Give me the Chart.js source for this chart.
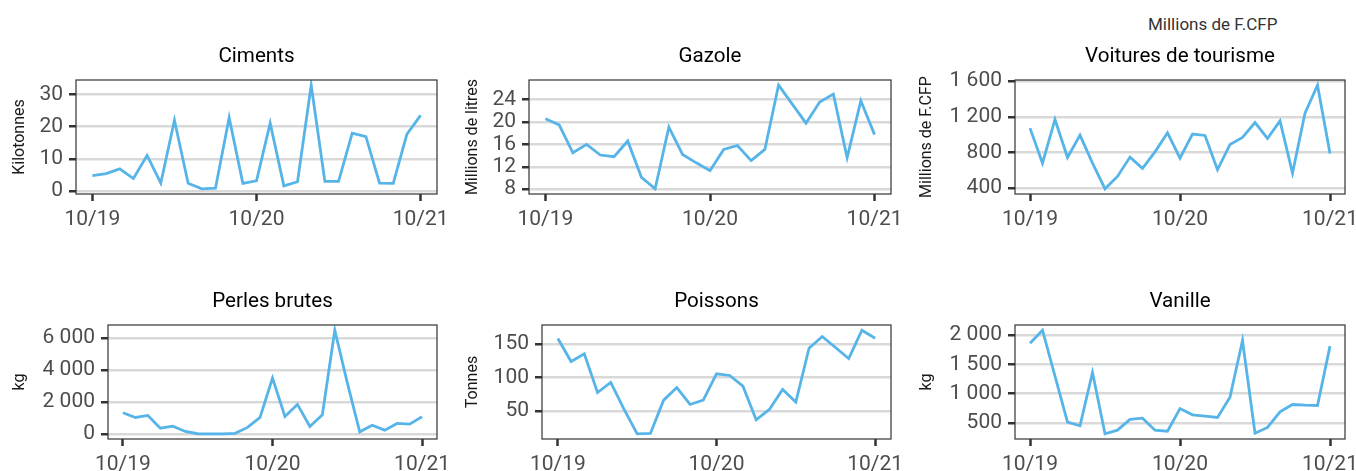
<!DOCTYPE html>
<html lang="fr">
<head>
  <meta charset="UTF-8" />
  <title>Indicateurs mensuels</title>
  <script src="https://cdn.jsdelivr.net/npm/chart.js"></script>
  <style>
    html, body {
      margin: 0;
      padding: 0;
      background: #fff;
      overflow: hidden;
    }
    body {
      width: 1356px;
      height: 471px;
      position: relative;
      font-family: Roboto, sans-serif;
    }
    canvas {
      position: absolute;
    }
    .caption {
      position: absolute;
      left: 1148px;
      top: 14px;
      font-size: 17px;
      line-height: 20px;
      color: #333;
    }
  </style>
</head>
<body>
  <div class="caption">Millions de F.CFP</div>

  <canvas id="c1" width="452" height="210" style="left:0px;top:30px"></canvas>
  <canvas id="c2" width="452" height="210" style="left:453px;top:30px"></canvas>
  <canvas id="c3" width="449" height="210" style="left:907px;top:30px"></canvas>
  <canvas id="c4" width="452" height="210" style="left:0px;top:275px"></canvas>
  <canvas id="c5" width="452" height="210" style="left:453px;top:275px"></canvas>
  <canvas id="c6" width="449" height="210" style="left:907px;top:275px"></canvas>

  <script>
    // mois d'octobre 2019 a octobre 2021
    const months = ['10/19', '11/19', '12/19', '01/20', '02/20', '03/20', '04/20', '05/20', '06/20',
      '07/20', '08/20', '09/20', '10/20', '11/20', '12/20', '01/21', '02/21', '03/21', '04/21',
      '05/21', '06/21', '07/21', '08/21', '09/21', '10/21'];
    const monthTicks = ['10/19', '10/20', '10/21'];

    const ciments = [4.8, 5.4, 6.9, 3.9, 11.1, 2.5, 22, 2.4, 0.7, 0.9, 22.8, 2.4, 3.2, 21.1, 1.6, 2.9,
      32.9, 3.0, 3.0, 18.0, 16.9, 2.5, 2.4, 17.7, 23.5];
    const gazole = [20.6, 19.5, 14.5, 16.0, 14.1, 13.8, 16.6, 10.1, 8.05, 19.1, 14.2, 12.7, 11.3, 15.1,
      15.8, 13.1, 15.1, 26.6, 23.2, 19.8, 23.6, 25.0, 13.6, 23.8, 17.75];
    const voitures = [1073, 680, 1170, 744, 994, 680, 392, 531, 748, 621, 807, 1021, 736, 1006, 991, 606,
      890, 968, 1136, 957, 1155, 568, 1241, 1555, 789];
    const perles = [1318, 1025, 1150, 355, 480, 146, 5, 0, 0, 30, 400, 1025, 3494, 1090, 1840, 460,
      1190, 6485, 3200, 125, 540, 230, 650, 605, 1065];
    const poissons = [157.9, 123.8, 135.1, 77.7, 92.6, 53, 16.3, 16.8, 66.3, 85.1, 59.9, 66.3, 105.4, 103,
      87.1, 37.1, 52.5, 82.2, 63.4, 143.6, 160.9, 144.6, 128.2, 170.3, 158.4];
    const vanille = [1858, 2079, 1300, 517, 455, 1360, 319, 381, 563, 585, 381, 364, 749, 642, 619, 597,
      942, 1904, 330, 427, 693, 817, 806, 800, 1808];

    const cimentsTicks = [0, 10, 20, 30];
    const gazoleTicks = [8, 12, 16, 20, 24];
    const voituresTicks = [400, 800, 1200, 1600];
    const perlesTicks = [0, 2000, 4000, 6000];
    const poissonsTicks = [50, 100, 150];
    const vanilleTicks = [500, 1000, 1500, 2000];

    const FONT = 'Roboto';

    // nombres a la francaise : 1 600
    function fmt(v) {
      return String(v).replace(/\B(?=(\d{3})+(?!\d))/g, ' ');
    }

    const panelBox = {
      id: 'panelBox',
      afterDraw(chart) {
        const a = chart.chartArea;
        const ctx = chart.ctx;
        ctx.save();
        ctx.strokeStyle = '#333';
        ctx.lineWidth = 1.2;
        ctx.strokeRect(a.left, a.top, a.right - a.left, a.bottom - a.top);
        ctx.restore();
      }
    };

    function makeChart(id, title, yTitle, values, yTicks, yWidth, padRight) {
      const lo = Math.min(...values), hi = Math.max(...values);
      const span = hi - lo;
      return new Chart(document.getElementById(id), {
        type: 'line',
        data: {
          datasets: [{
            data: values.map((v, i) => ({ x: i, y: v })),
            borderColor: '#56B4E9',
            borderWidth: 2.8,
            pointRadius: 0,
            tension: 0,
            fill: false
          }]
        },
        options: {
          responsive: false,
          animation: false,
          layout: { padding: { left: 8, right: padRight, top: 0, bottom: 0 } },
          plugins: {
            legend: { display: false },
            tooltip: { enabled: false },
            title: {
              display: true,
              text: title,
              fullSize: false,
              color: '#000',
              font: { family: FONT, size: 20.6, weight: 'normal', lineHeight: '24px' },
              padding: { top: 15, bottom: 11 }
            }
          },
          scales: {
            x: {
              type: 'linear',
              min: -1.2,
              max: 25.2,
              afterBuildTicks: s => { s.ticks = monthTicks.map(m => ({ value: months.indexOf(m) })); },
              afterFit: s => { s.height = 46; s.paddingLeft = 0; s.paddingRight = 0; },
              border: { display: false },
              grid: { drawOnChartArea: false, drawTicks: true, tickLength: 7, tickColor: '#333', tickWidth: 2.5 },
              ticks: {
                autoSkip: false,
                maxRotation: 0,
                padding: 6,
                color: '#4D4D4D',
                font: { family: FONT, size: 21 },
                callback: v => months[v]
              }
            },
            y: {
              min: lo - span * 0.05,
              max: hi + span * 0.05,
              afterBuildTicks: s => { s.ticks = yTicks.map(v => ({ value: v })); },
              afterFit: s => { s.width = yWidth; s.paddingTop = 0; s.paddingBottom = 0; },
              border: { display: false },
              grid: { color: '#D9D9D9', lineWidth: 2.5, drawTicks: true, tickLength: 7, tickColor: '#333', tickWidth: 2.5 },
              ticks: {
                padding: 6,
                color: '#4D4D4D',
                font: { family: FONT, size: 21 },
                callback: v => fmt(v)
              },
              title: {
                display: true,
                text: yTitle,
                color: '#1A1A1A',
                font: { family: FONT, size: 16 },
                padding: { top: 2, bottom: 0 }
              }
            }
          }
        },
        plugins: [panelBox]
      });
    }

    makeChart('c1', 'Ciments', 'Kilotonnes', ciments, cimentsTicks, 68, 15);
    makeChart('c2', 'Gazole', 'Millions de litres', gazole, gazoleTicks, 68, 14);
    makeChart('c3', 'Voitures de tourisme', 'Millions de F.CFP', voitures, voituresTicks, 100, 11);
    makeChart('c4', 'Perles brutes', 'kg', perles, perlesTicks, 100, 15);
    makeChart('c5', 'Poissons', 'Tonnes', poissons, poissonsTicks, 81, 14);
    makeChart('c6', 'Vanille', 'kg', vanille, vanilleTicks, 100, 11);
  </script>
</body>
</html>
